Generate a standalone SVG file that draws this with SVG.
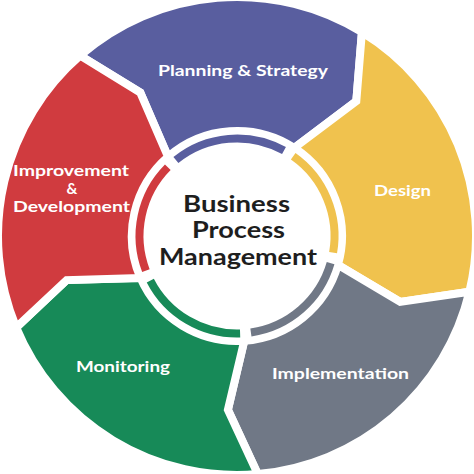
<svg xmlns="http://www.w3.org/2000/svg" width="474" height="474" viewBox="0 0 474 474">
<style>
.seg{stroke:#fff;stroke-width:8;stroke-linejoin:miter;stroke-miterlimit:10}
.arc{fill:none;stroke-width:8;stroke-linecap:butt}
.lbl{font-family:Lato,"Open Sans",sans-serif;font-weight:700;font-size:15px;fill:#fff;text-anchor:middle}
.ctr{font-family:Lato,"Open Sans",sans-serif;font-weight:700;font-size:22px;fill:#1e1e1e;text-anchor:middle}
</style>
<rect width="474" height="474" fill="#fff"/>
<g id="planning">
<path class="seg" fill="#595E9F" d="M80.2,55.6 A239,239 0 0 1 361.9,32.2 L356.3,101.2 L294.2,147.9 A105,105 0 0 0 168.1,156.8 L140.3,92.6 Z"/>
<path class="arc" stroke="#595E9F" d="M175.9,160.0 A97.5,97.5 0 0 1 284.0,150.6"/>
<text class="lbl" x="243" y="76" textLength="170" lengthAdjust="spacingAndGlyphs">Planning &amp; Strategy</text>
</g>
<g id="design">
<path class="seg" fill="#F0C24E" d="M361.9,32.2 A239,239 0 0 1 469.4,291.8 L400.2,301.9 L337.9,264.9 A105,105 0 0 0 294.2,147.9 L356.3,101.2 Z"/>
<path class="arc" stroke="#F0C24E" d="M293.2,156.3 A97.5,97.5 0 0 1 333.1,252.6"/>
<text class="lbl" x="402.5" y="196" textLength="57" lengthAdjust="spacingAndGlyphs">Design</text>
</g>
<g id="implementation">
<path class="seg" fill="#707886" d="M469.4,291.8 A239,239 0 0 1 257.8,474.1 L227.9,409.8 L244.3,340.7 A105,105 0 0 0 337.9,264.9 L400.2,301.9 Z"/>
<path class="arc" stroke="#707886" d="M330.6,263.2 A97.5,97.5 0 0 1 250.9,332.5"/>
<text class="lbl" x="340.5" y="379" textLength="137" lengthAdjust="spacingAndGlyphs">Implementation</text>
</g>
<g id="monitoring">
<path class="seg" fill="#178A58" d="M257.8,474.1 A239,239 0 0 1 16.2,327.5 L66.6,280.1 L140.5,278.0 A105,105 0 0 0 244.3,340.7 L227.9,409.8 Z"/>
<path class="arc" stroke="#178A58" d="M240.1,333.5 A97.5,97.5 0 0 1 150.3,280.6"/>
<text class="lbl" x="123" y="372" textLength="94" lengthAdjust="spacingAndGlyphs">Monitoring</text>
</g>
<g id="improvement">
<path class="seg" fill="#D03B3F" d="M16.2,327.5 A239,239 0 0 1 80.2,55.6 L140.3,92.6 L168.1,156.8 A105,105 0 0 0 140.5,278.0 L66.6,280.1 Z"/>
<path class="arc" stroke="#D03B3F" d="M145.9,270.6 A97.5,97.5 0 0 1 167.8,167.3"/>
<text class="lbl" x="71" y="176" textLength="116" lengthAdjust="spacingAndGlyphs">Improvement</text>
<text class="lbl" x="72" y="194">&amp;</text>
<text class="lbl" x="71.5" y="212" textLength="117" lengthAdjust="spacingAndGlyphs">Development</text>
</g>
<g id="center">
<text class="ctr" x="236.5" y="211.5" textLength="107" lengthAdjust="spacingAndGlyphs">Business</text>
<text class="ctr" x="238.5" y="238" textLength="93" lengthAdjust="spacingAndGlyphs">Process</text>
<text class="ctr" x="238" y="264.5" textLength="158" lengthAdjust="spacingAndGlyphs">Management</text>
</g>
<g id="connectors"/>
</svg>
